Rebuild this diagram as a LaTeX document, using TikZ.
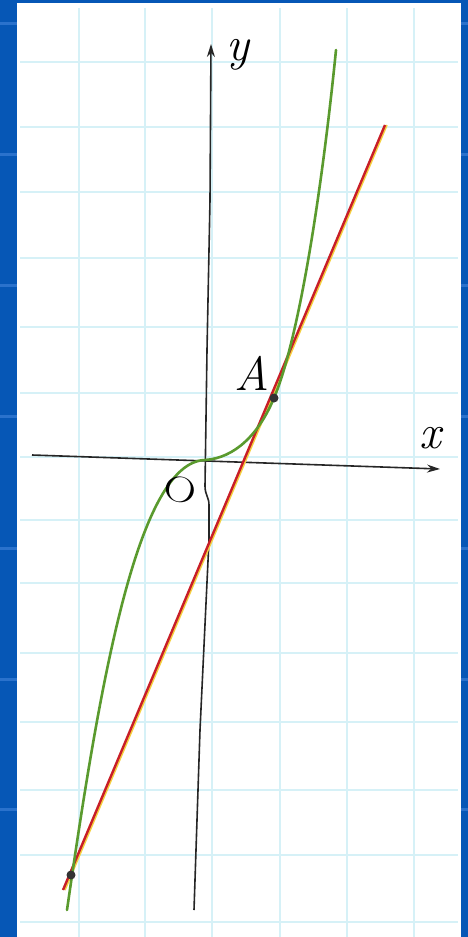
\documentclass[tikz,border=0pt]{standalone}
\usetikzlibrary{arrows.meta}
\definecolor{bgblue}{HTML}{0657B6}
\definecolor{bgstripe}{HTML}{2A72CC}
\definecolor{gridcyan}{HTML}{D6F1F7}
\definecolor{curvegreen}{HTML}{5A9A2E}
\definecolor{linered}{HTML}{C81E28}
\definecolor{lineyellow}{HTML}{F5D040}
\tikzset{
  gridline/.style={gridcyan, line width=1.6pt},
  axisline/.style={black!85, line width=1.6pt},
  curveline/.style={curvegreen, line width=2.6pt, line cap=round},
  tangentline/.style={linered, line width=2.4pt},
  dotmark/.style={circle, fill=black!80, inner sep=0pt, minimum size=9pt},
  lbl/.style={inner sep=0pt, font=\fontsize{48}{48}\selectfont\itshape}
}
\begin{document}
\begin{tikzpicture}[x=1pt,y=-1pt]
\useasboundingbox (0,0) rectangle (468,937);
% background
\fill[bgblue] (0,0) rectangle (468,937);
\foreach \yy in {22,153,284,415,547,678,808}
  \fill[bgstripe] (0,\yy) rectangle (468,\yy+3);
\fill[white] (17,3) rectangle (461,937);
% grid
\foreach \xx in {79,145,212,280,347,414}
  \draw[gridline] (\xx,8) -- (\xx,937);
\foreach \yy in {62,127,192,258,327,393,457,520,583,653,722,790,855,922}
  \draw[gridline] (20,\yy) -- (458,\yy);
% axes
\coordinate (xs) at (32,455);
\coordinate (xe) at (440,469);
\coordinate (ys) at (194,910);
\coordinate (ye) at (211,44);
\draw[axisline, -{Stealth[length=13pt,width=8pt]}] (xs) -- (xe);
\draw[axisline, -{Stealth[length=13pt,width=8pt]}] (ys) -- (200,730) -- (209,540) -- (209,505)
  .. controls (209,497) and (205,495) .. (205,486) -- (207,350) -- (210,200) -- (ye);
% tangent line
\coordinate (t1) at (63,890);
\coordinate (t2) at (385,125);
\draw[lineyellow, line width=2pt] ([xshift=1.8pt]t1) -- ([xshift=1.8pt]t2);
\draw[tangentline] (t1) -- (t2);
% points
\coordinate (O) at (205,460);
\coordinate (Bt) at (67,910);
\coordinate (Tp) at (336,50);
\coordinate (Ap) at (274,398);
% cubic
\draw[curveline] (Bt) .. controls (100,680) and (138,462) .. (O)
  .. controls (235,458) and (259,434) .. (Ap)
  .. controls (299,339) and (322,190) .. (Tp);
\node[dotmark] (A) at (Ap) {};
\node[dotmark] (B) at (71,875) {};
% labels
\node[lbl] (ylab) at (238,55) {y};
\node[lbl] (xlab) at (430,438) {x};
\node[lbl] (Alab) at (252,373) {A};
\node[inner sep=0pt, font=\fontsize{36}{36}\selectfont, rotate=-15, xscale=1.25] (Olab) at (180,490) {O};
\end{tikzpicture}
\end{document}
